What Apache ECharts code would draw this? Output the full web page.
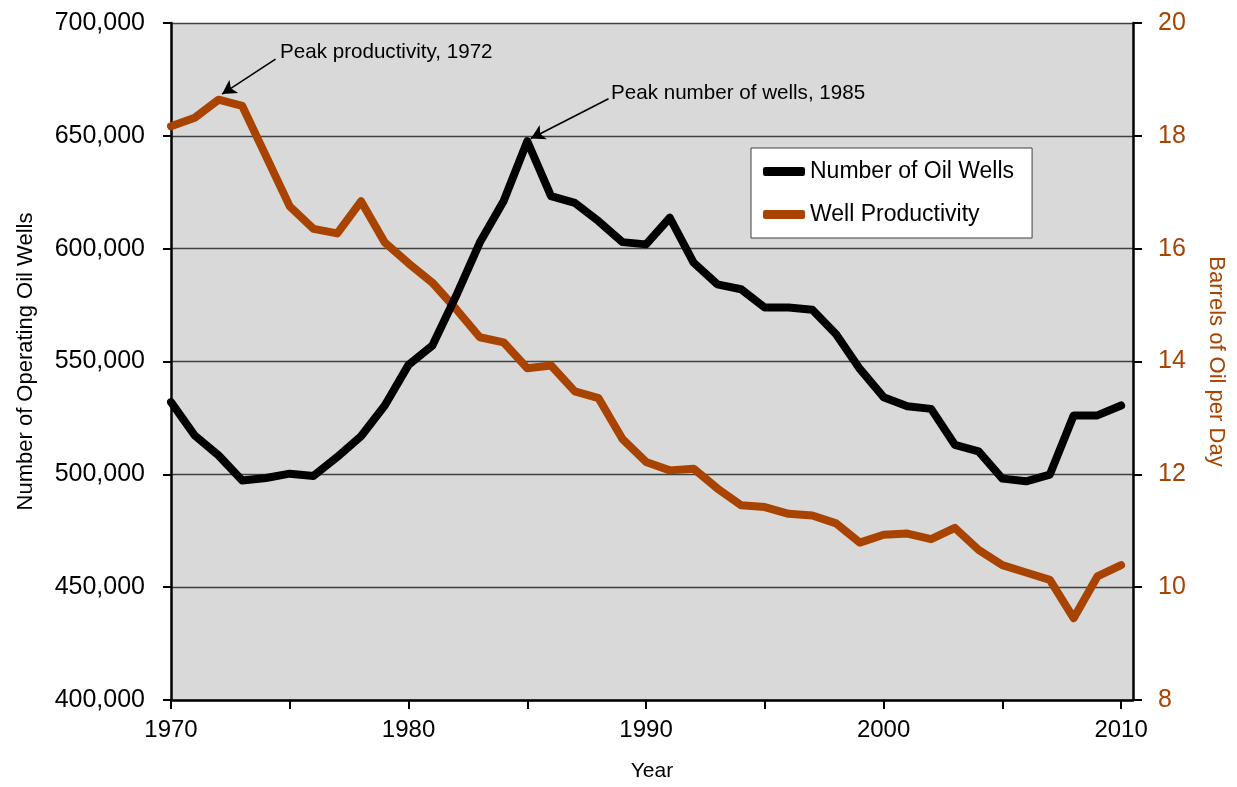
<!DOCTYPE html>
<html>
<head>
<meta charset="utf-8">
<script src="https://cdn.jsdelivr.net/npm/echarts@6/dist/echarts.min.js"></script>
<style>
  html, body { margin: 0; padding: 0; background: #fff; }
  #main { width: 1237px; height: 787px; }
</style>
</head>
<body>
<div id="main"></div>
<script>
// years 1970..2010
var years = [];
for (var y = 1970; y <= 2010; y++) years.push(y);

// number of operating oil wells
var wells = [
  532000, 517200, 508400, 497300, 498400, 500300, 499300, 507700, 516900, 530500,
  548500, 557000, 579000, 602700, 621000, 647600, 623300, 620300, 612200, 602900,
  601900, 613700, 593800, 584200, 582000, 573900, 573900, 572900, 562100, 546700,
  534200, 530200, 529000, 513100, 510200, 498100, 496900, 499900, 526100, 526100,
  530500
];

// barrels of oil per day per well
var productivity = [
  18.17, 18.32, 18.64, 18.53, 17.64, 16.75, 16.35, 16.27, 16.84, 16.11,
  15.74, 15.40, 14.93, 14.43, 14.34, 13.88, 13.93, 13.47, 13.35, 12.63,
  12.22, 12.07, 12.10, 11.75, 11.45, 11.42, 11.30, 11.27, 11.13, 10.79,
  10.93, 10.95, 10.85, 11.05, 10.66, 10.39, 10.26, 10.13, 9.45, 10.19,
  10.39
];

var xTicks = [1970, 1975, 1980, 1985, 1990, 1995, 2000, 2005, 2010];
var xLabels = [1970, 1980, 1990, 2000, 2010];
var leftTicks = [400000, 700000, 50000];
var rightTicks = [8, 20, 2];

var font = 'Liberation Sans, Arial, sans-serif';
var orange = '#A84300';

function pairs(vals) {
  return years.map(function (yr, i) { return [yr, vals[i]]; });
}

var chart = echarts.init(document.getElementById('main'), null, { renderer: 'canvas' });

var option = {
  animation: false,
  textStyle: { fontFamily: font },
  grid: {
    left: 171, right: 104, top: 23, bottom: 85,
    containLabel: false,
    show: true, backgroundColor: '#D9D9D9', borderWidth: 0
  },
  legend: {
    orient: 'vertical',
    left: 751, top: 148,
    padding: [12, 18, 12, 12],
    itemGap: 20,
    itemWidth: 42, itemHeight: 9,
    icon: 'roundRect',
    backgroundColor: '#fff',
    borderColor: '#404040', borderWidth: 1,
    textStyle: { fontSize: 23, color: '#000', fontFamily: font },
    data: ['Number of Oil Wells', 'Well Productivity']
  },
  xAxis: {
    type: 'value',
    min: 1970, max: 2010.5,
    name: 'Year', nameLocation: 'middle', nameGap: 61,
    nameTextStyle: { fontSize: 21, color: '#000' },
    axisLine: { onZero: false, lineStyle: { color: '#000', width: 2.5 } },
    axisTick: { show: true, length: 9, customValues: xTicks, lineStyle: { color: '#000', width: 2 } },
    axisLabel: {
      fontSize: 24, color: '#000', margin: 18, customValues: xLabels,
      formatter: function (v) { return String(v); }
    },
    splitLine: { show: false }
  },
  yAxis: [{
    type: 'value',
    min: leftTicks[0], max: leftTicks[1], interval: leftTicks[2],
    position: 'left',
    name: 'Number of Operating Oil Wells', nameLocation: 'middle', nameGap: 134,
    nameTextStyle: { fontSize: 22, color: '#000' },
    axisLine: { show: true, lineStyle: { color: '#000', width: 2.5 } },
    axisTick: { show: true, length: 8, lineStyle: { color: '#000', width: 2 } },
    axisLabel: {
      fontSize: 25, color: '#000', margin: 26,
      formatter: function (v) { return v.toLocaleString('en-US'); }
    },
    splitLine: { show: true, lineStyle: { color: '#404040', width: 1.3 } }
  }, {
    type: 'value',
    min: rightTicks[0], max: rightTicks[1], interval: rightTicks[2],
    position: 'right',
    name: 'Barrels of Oil per Day', nameLocation: 'middle', nameGap: 72, nameRotate: -90,
    nameTextStyle: { fontSize: 22, color: orange },
    axisLine: { show: true, lineStyle: { color: '#000', width: 2.5 } },
    axisTick: { show: true, length: 9, lineStyle: { color: '#000', width: 2 } },
    axisLabel: { fontSize: 25, color: orange, margin: 25 },
    splitLine: { show: false }
  }],
  series: [{
    name: 'Well Productivity',
    type: 'line',
    yAxisIndex: 1,
    data: pairs(productivity),
    symbol: 'none',
    color: orange,
    lineStyle: { color: orange, width: 8, join: 'round', cap: 'round' },
    z: 3,
    markLine: {
      silent: true,
      symbol: ['none', 'arrow'], symbolSize: [12, 14],
      lineStyle: { color: '#000', width: 1.6, type: 'solid' },
      label: { show: false },
      data: [[{ coord: [1974.4, 19.36] }, { coord: [1972.15, 18.74] }]]
    },
    markPoint: {
      silent: true,
      symbol: 'circle', symbolSize: 1,
      itemStyle: { color: 'rgba(0,0,0,0)' },
      label: {
        show: true, position: 'right', distance: 4, offset: [0, -7],
        fontSize: 20.6, color: '#000', fontFamily: font
      },
      data: [{ coord: [1974.4, 19.36], value: 'Peak productivity, 1972',
               label: { formatter: 'Peak productivity, 1972' } }]
    }
  }, {
    name: 'Number of Oil Wells',
    type: 'line',
    yAxisIndex: 0,
    data: pairs(wells),
    symbol: 'none',
    color: '#000',
    lineStyle: { color: '#000', width: 8, join: 'round', cap: 'round' },
    z: 4,
    markLine: {
      silent: true,
      symbol: ['none', 'arrow'], symbolSize: [12, 14],
      lineStyle: { color: '#000', width: 1.6, type: 'solid' },
      label: { show: false },
      data: [[{ coord: [1988.42, 666400] }, { coord: [1985.15, 648800] }]]
    },
    markPoint: {
      silent: true,
      symbol: 'circle', symbolSize: 1,
      itemStyle: { color: 'rgba(0,0,0,0)' },
      label: {
        show: true, position: 'right', distance: 2, offset: [0, -6],
        fontSize: 20.6, color: '#000', fontFamily: font
      },
      data: [{ coord: [1988.42, 666400], value: 'Peak number of wells, 1985',
               label: { formatter: 'Peak number of wells, 1985' } }]
    }
  }]
};

chart.setOption(option);
</script>
</body>
</html>
